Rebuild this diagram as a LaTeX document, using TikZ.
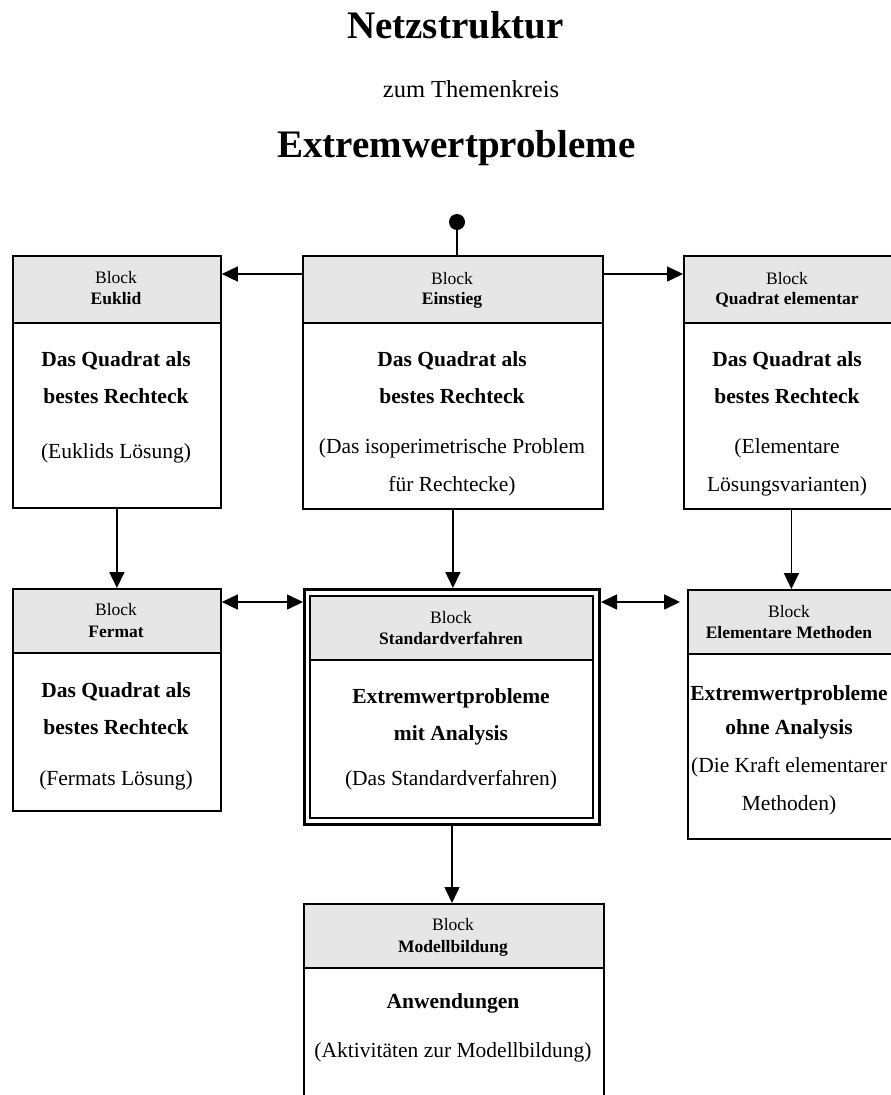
\documentclass[tikz,border=0pt]{standalone}
\usepackage{fontspec}
\setmainfont{Liberation Serif}
\usetikzlibrary{arrows.meta}
\definecolor{hdrgray}{RGB}{230,230,230}
\begin{document}
\begin{tikzpicture}[x=1pt,y=-1pt,
  frame/.style={draw, line width=1.8pt, inner sep=0pt, anchor=north west},
  hdr/.style={frame, fill=hdrgray},
  hsm/.style={anchor=base, inner sep=0pt, font=\fontsize{17.5}{20}\selectfont},
  hbf/.style={anchor=base, inner sep=0pt, font=\fontsize{17.5}{20}\selectfont\bfseries},
  bbf/.style={anchor=base, inner sep=0pt, font=\fontsize{21.5}{24}\selectfont\bfseries},
  brg/.style={anchor=base, inner sep=0pt, font=\fontsize{21.5}{24}\selectfont},
  conn/.style={line width=1.6pt, -{Triangle[length=16pt,width=15pt]}},
  dconn/.style={line width=1.6pt, {Triangle[length=16pt,width=15pt]}-{Triangle[length=16pt,width=15pt]}}]
\useasboundingbox (0,0) rectangle (891,1095);
\fill[white] (0,0) rectangle (891,1095);

% titles
\node[anchor=base, inner sep=0pt, font=\fontsize{39}{44}\selectfont\bfseries] (t1) at (455.5,38) {Netzstruktur};
\node[anchor=base, inner sep=0pt, font=\fontsize{24.5}{28}\selectfont] (t2) at (471,97) {zum Themenkreis};
\node[anchor=base, inner sep=0pt, font=\fontsize{39}{44}\selectfont\bfseries] (t3) at (456.5,157) {Extremwertprobleme};

% Euklid
\node[hdr, minimum width=208pt, minimum height=67pt] (euklidH) at (12,255) {};
\node[frame, minimum width=208pt, minimum height=185pt] (euklidB) at (12,322) {};
\node[hsm] (euklid1) at (116,283) {Block};
\node[hbf] (euklid2) at (116,304) {Euklid};
\node[bbf] (euklid3) at (116,366) {Das Quadrat als};
\node[bbf] (euklid4) at (116,403) {bestes Rechteck};
\node[brg] (euklid5) at (116,458) {(Euklids Lösung)};

% Einstieg
\node[hdr, minimum width=300pt, minimum height=67pt] (einstiegH) at (302,255) {};
\node[frame, minimum width=300pt, minimum height=186pt] (einstiegB) at (302,322) {};
\node[hsm] (ein1) at (452,284) {Block};
\node[hbf] (ein2) at (452,304) {Einstieg};
\node[bbf] (ein3) at (452,366) {Das Quadrat als};
\node[bbf] (ein4) at (452,403) {bestes Rechteck};
\node[brg] (ein5) at (452,453) {(Das isoperimetrische Problem};
\node[brg] (ein6) at (452,491) {für Rechtecke)};

% Quadrat elementar
\node[hdr, minimum width=215pt, minimum height=67pt] (quadratH) at (683,255) {};
\node[frame, minimum width=215pt, minimum height=186pt] (quadratB) at (683,322) {};
\node[hsm] (qu1) at (787,284) {Block};
\node[hbf] (qu2) at (787,304) {Quadrat elementar};
\node[bbf] (qu3) at (787,366) {Das Quadrat als};
\node[bbf] (qu4) at (787,403) {bestes Rechteck};
\node[brg] (qu5) at (787,453) {(Elementare};
\node[brg] (qu6) at (787,491) {Lösungsvarianten)};

% Fermat
\node[hdr, minimum width=208pt, minimum height=64pt] (fermatH) at (12,588) {};
\node[frame, minimum width=208pt, minimum height=158pt] (fermatB) at (12,652) {};
\node[hsm] (fe1) at (116,615) {Block};
\node[hbf] (fe2) at (116,637) {Fermat};
\node[bbf] (fe3) at (116,697) {Das Quadrat als};
\node[bbf] (fe4) at (116,734) {bestes Rechteck};
\node[brg] (fe5) at (116,785) {(Fermats Lösung)};

% Standardverfahren (double frame)
\node[frame, line width=3pt, minimum width=295pt, minimum height=235pt] (stdO) at (303,588) {};
\node[hdr, minimum width=283pt, minimum height=64pt] (stdH) at (309,595) {};
\node[frame, minimum width=283pt, minimum height=158pt] (stdB) at (309,659) {};
\node[hsm] (st1) at (451,623) {Block};
\node[hbf] (st2) at (451,644) {Standardverfahren};
\node[bbf] (st3) at (451,703) {Extremwertprobleme};
\node[bbf] (st4) at (451,740) {mit Analysis};
\node[brg] (st5) at (451,785) {(Das Standardverfahren)};

% Elementare Methoden
\node[hdr, minimum width=215pt, minimum height=64pt] (elemH) at (687,589) {};
\node[frame, minimum width=215pt, minimum height=185pt] (elemB) at (687,653) {};
\node[hsm] (el1) at (789,617) {Block};
\node[hbf] (el2) at (789,638) {Elementare Methoden};
\node[bbf] (el3) at (789,700) {Extremwertprobleme};
\node[bbf] (el4) at (789,734) {ohne Analysis};
\node[brg] (el5) at (789,772) {(Die Kraft elementarer};
\node[brg] (el6) at (789,810) {Methoden)};

% Modellbildung
\node[hdr, minimum width=300pt, minimum height=64pt] (modH) at (303,903) {};
\node[frame, minimum width=300pt, minimum height=150pt] (modB) at (303,967) {};
\node[hsm] (mo1) at (453,930) {Block};
\node[hbf] (mo2) at (453,952) {Modellbildung};
\node[bbf] (mo3) at (453,1008) {Anwendungen};
\node[brg] (mo4) at (453,1057) {(Aktivitäten zur Modellbildung)};

% connectors
\node[circle, fill=black, inner sep=0pt, minimum size=16pt] (dot) at (457,222) {};
\coordinate (ya) at (0,274);
\coordinate (yb) at (0,602);
\draw[line width=1.6pt] (dot) -- (dot |- einstiegH.north);
\draw[conn] (einstiegH.west |- ya) -- (euklidH.east |- ya);
\draw[conn] (einstiegH.east |- ya) -- (quadratH.west |- ya);
\draw[conn] (euklidB.south) -- (fermatH.north);
\draw[conn] (einstiegB.south) -- (einstiegB.south |- stdO.north);
\draw[conn] (quadratB.south) -- (quadratB.south |- elemH.north);
\draw[dconn] (fermatH.east |- yb) -- (stdO.west |- yb);
\draw[dconn, shorten >=7pt] (stdO.east |- yb) -- (elemH.west |- yb);
\draw[conn] (stdO.south) -- (stdO.south |- modH.north);
\end{tikzpicture}
\end{document}
